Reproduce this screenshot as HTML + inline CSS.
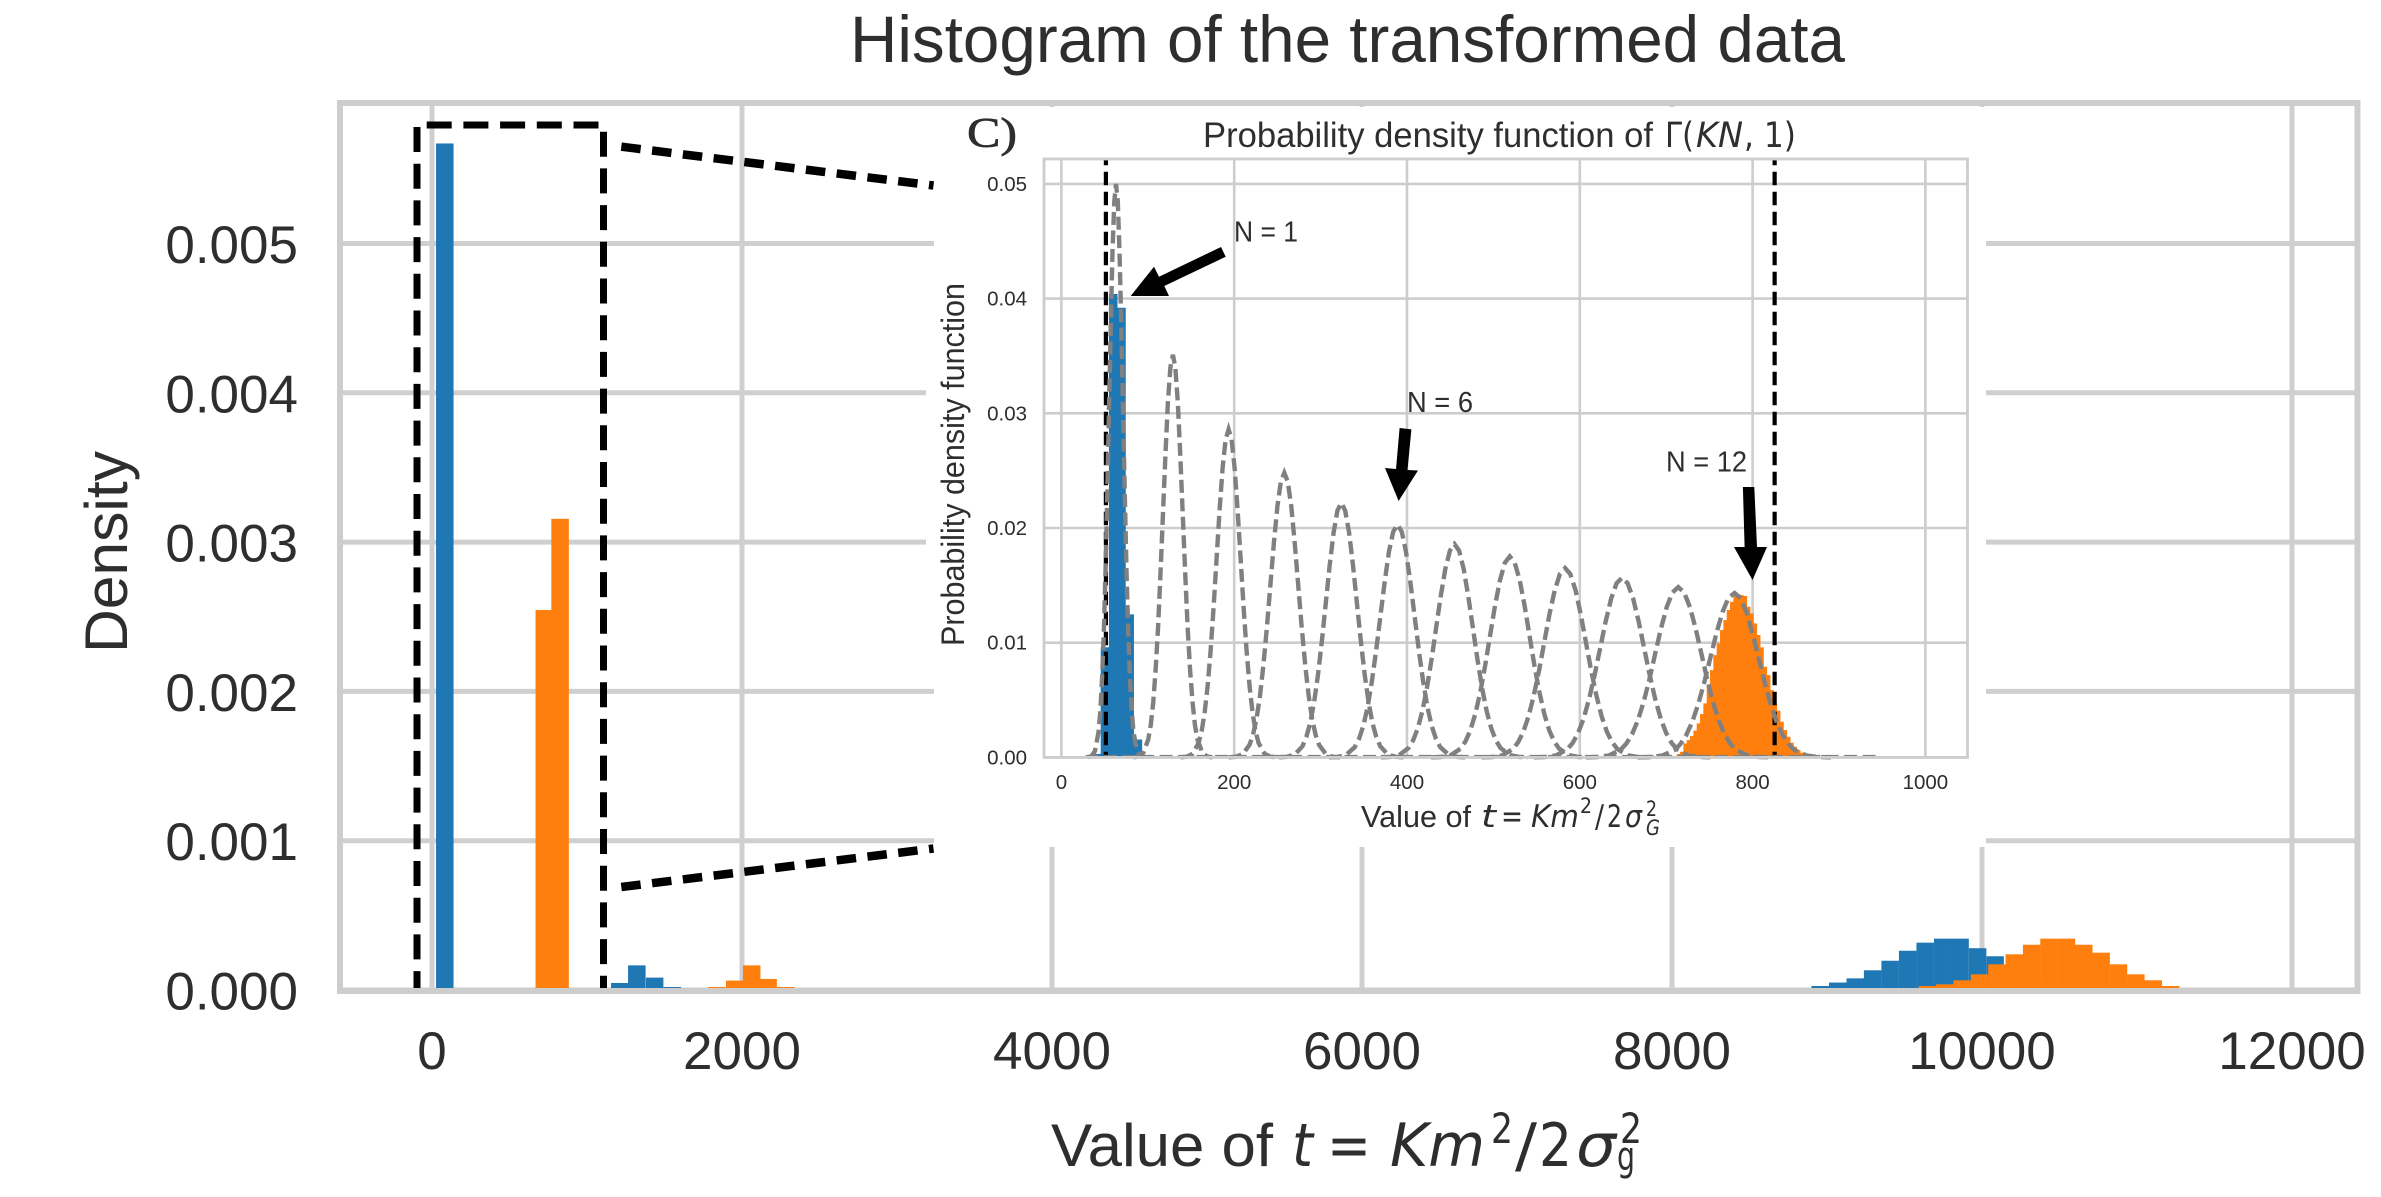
<!DOCTYPE html>
<html lang="en">
<head>
<meta charset="utf-8">
<title>Histogram of the transformed data</title>
<style>
html,body{margin:0;padding:0;background:#fff;}
svg{display:block;}
text{font-family:"Liberation Sans",sans-serif;fill:#2e2e2e;}
.math{font-family:"DejaVu Sans",sans-serif;}
.it{font-style:italic;}
</style>
</head>
<body>
<svg id="figure" xmlns="http://www.w3.org/2000/svg" width="2381" height="1197" viewBox="0 0 2381 1197">
  <rect x="0" y="0" width="2381" height="1197" fill="#fff"/>

  <text x="850" y="62" font-size="66" textLength="995" lengthAdjust="spacingAndGlyphs">Histogram of the transformed data</text>

  <g id="main-grid"></g>
  <g id="main-bars"></g>
  <g id="main-spines"></g>
  <g id="main-ticks"></g>

  <text transform="translate(127,653) rotate(-90)" font-size="60.5" textLength="202" lengthAdjust="spacingAndGlyphs">Density</text>

  <g>
    <text x="1051" y="1166" font-size="60" textLength="222" lengthAdjust="spacingAndGlyphs">Value of</text>
    <text class="math it" x="1292" y="1166" font-size="60" textLength="21" lengthAdjust="spacingAndGlyphs">t</text>
    <text class="math" x="1327" y="1166" font-size="60" textLength="44" lengthAdjust="spacingAndGlyphs">=</text>
    <text class="math it" x="1390" y="1166" font-size="60" textLength="95" lengthAdjust="spacingAndGlyphs">Km</text>
    <text class="math" x="1491" y="1143" font-size="42" textLength="22" lengthAdjust="spacingAndGlyphs">2</text>
    <text class="math" x="1515" y="1166" font-size="60" textLength="22" lengthAdjust="spacingAndGlyphs">/</text>
    <text class="math" x="1539" y="1166" font-size="60" textLength="33" lengthAdjust="spacingAndGlyphs">2</text>
    <text class="math it" x="1576" y="1166" font-size="60" textLength="40" lengthAdjust="spacingAndGlyphs">σ</text>
    <text class="math" x="1620" y="1143" font-size="42" textLength="22" lengthAdjust="spacingAndGlyphs">2</text>
    <text class="math" x="1617" y="1170" font-size="40" textLength="18" lengthAdjust="spacingAndGlyphs">g</text>
  </g>

  <g fill="none" stroke="#000" stroke-width="7">
    <path d="M417 988 L417 125 L603.5 125 L603.5 988" stroke-dasharray="25 11.7" stroke-dashoffset="8.1"/>
  </g>

  <rect x="934" y="107" width="1052" height="740" fill="#fff"/>
  <rect x="926" y="380" width="8" height="180" fill="#fff"/>

  <g fill="none" stroke="#000" stroke-width="8.5" stroke-dasharray="19.5 11.5">
    <line x1="621.3" y1="146.7" x2="933.5" y2="185.5"/>
    <line x1="621.3" y1="887" x2="933.5" y2="848.5"/>
  </g>

  <text x="967" y="147" font-size="42" stroke="#2e2e2e" stroke-width="0.7" textLength="50" lengthAdjust="spacingAndGlyphs" style="font-family:'Liberation Serif',serif">C)</text>

  <g>
    <text x="1203" y="147" font-size="35" textLength="450" lengthAdjust="spacingAndGlyphs">Probability density function of</text>
    <text class="math" x="1665" y="147" font-size="35" textLength="29" lengthAdjust="spacingAndGlyphs">Γ(</text>
    <text class="math it" x="1696" y="147" font-size="35" textLength="47" lengthAdjust="spacingAndGlyphs">KN</text>
    <text class="math" x="1744" y="147" font-size="35" textLength="52" lengthAdjust="spacingAndGlyphs">, 1)</text>
  </g>

  <g id="inset-grid"></g>
  <g id="inset-bars"></g>
  <g id="inset-bounds"></g>
  <g id="inset-curves"></g>
  <g id="inset-spines"></g>
  <g id="inset-ticks"></g>

  <text transform="translate(964,646) rotate(-90)" font-size="32" textLength="363" lengthAdjust="spacingAndGlyphs">Probability density function</text>

  <g>
    <text x="1361" y="827" font-size="31" textLength="110" lengthAdjust="spacingAndGlyphs">Value of</text>
    <text class="math it" x="1481" y="827" font-size="31" textLength="15" lengthAdjust="spacingAndGlyphs">t</text>
    <text class="math" x="1501" y="827" font-size="31" textLength="22" lengthAdjust="spacingAndGlyphs">=</text>
    <text class="math it" x="1531" y="827" font-size="31" textLength="48" lengthAdjust="spacingAndGlyphs">Km</text>
    <text class="math" x="1580" y="813" font-size="21" textLength="12" lengthAdjust="spacingAndGlyphs">2</text>
    <text class="math" x="1595" y="827" font-size="31" textLength="9" lengthAdjust="spacingAndGlyphs">/</text>
    <text class="math" x="1607" y="827" font-size="31" textLength="15" lengthAdjust="spacingAndGlyphs">2</text>
    <text class="math it" x="1625" y="827" font-size="31" textLength="17" lengthAdjust="spacingAndGlyphs">σ</text>
    <text class="math" x="1646" y="816" font-size="21" textLength="11" lengthAdjust="spacingAndGlyphs">2</text>
    <text class="math it" x="1646" y="835" font-size="21" textLength="14" lengthAdjust="spacingAndGlyphs">G</text>
  </g>

  <g>
    <polygon fill="#000" points="1221,247 1225.7,256.7 1164.3,286 1169,296 1130.7,296 1154,266.7 1159,276.7"/>
    <text x="1234" y="241.5" font-size="29" textLength="64" lengthAdjust="spacingAndGlyphs">N = 1</text>
    <polygon fill="#000" points="1399.6,428 1411.4,429.4 1407.5,470 1418,470.5 1398.6,501 1385,468 1396,469"/>
    <text x="1407" y="412" font-size="29" textLength="66" lengthAdjust="spacingAndGlyphs">N = 6</text>
    <polygon fill="#000" points="1742.9,487 1754.3,487 1757,547 1767,547 1752.5,580 1734,547 1744.6,547"/>
    <text x="1666" y="471.4" font-size="29" textLength="81" lengthAdjust="spacingAndGlyphs">N = 12</text>
  </g>
</svg>

<script>
// ---- main chart data ----
const mainXTicks = [0, 2000, 4000, 6000, 8000, 10000, 12000];
const mainXTickLabels = ['0', '2000', '4000', '6000', '8000', '10000', '12000'];
const mainYTicks = [0, 0.001, 0.002, 0.003, 0.004, 0.005];
const mainYTickLabels = ['0.000', '0.001', '0.002', '0.003', '0.004', '0.005'];
const mainBinWidth = 113;
const blueBinLefts = [26, 1052, 1155, 1265, 1380, 1494, 8900, 9013, 9126, 9238, 9351, 9464, 9577, 9690, 9802, 9915, 10028, 10141, 10254, 10367, 10480];
const blueDensity = [0.00567, 0.000013, 0.000047, 0.000165, 0.000083, 0.00002, 0.000027, 0.00005, 0.000078, 0.000132, 0.000196, 0.000263, 0.000317, 0.000344, 0.000344, 0.00028, 0.000226, 0.00016, 0.0001, 0.00005, 0.00002];
const orangeBinLefts = [668, 770, 1781, 1897, 2006, 2112, 2225, 9592, 9704, 9816, 9928, 10040, 10152, 10264, 10376, 10488, 10600, 10712, 10824, 10936, 11048, 11160];
const orangeDensity = [0.002545, 0.003156, 0.00002, 0.000063, 0.000165, 0.000074, 0.00002, 0.000027, 0.000038, 0.000065, 0.000105, 0.000172, 0.000239, 0.000303, 0.000344, 0.000344, 0.000303, 0.00025, 0.000172, 0.000105, 0.000065, 0.000027];

// ---- inset chart data ----
const insetXTicks = [0, 200, 400, 600, 800, 1000];
const insetXTickLabels = ['0', '200', '400', '600', '800', '1000'];
const insetYTicks = [0, 0.01, 0.02, 0.03, 0.04, 0.05];
const insetYTickLabels = ['0.00', '0.01', '0.02', '0.03', '0.04', '0.05'];
const insetBlueFirstEdge = 36;
const insetBlueBinWidth = 9.5;
const insetBlueDensity = [0.0003, 0.0096, 0.0404, 0.0392, 0.01247, 0.00156];
const insetOrangeFirstEdge = 708.3;
const insetOrangeBinWidth = 3.858;
const insetOrangeDensity = [0.00012, 0.00029, 0.00049, 0.00122, 0.00151, 0.00186, 0.00233, 0.00296, 0.00378, 0.00471, 0.00631, 0.00761, 0.00892, 0.00994, 0.0111, 0.01197, 0.01285, 0.01357, 0.01407, 0.01421, 0.01415, 0.01407, 0.01314, 0.01255, 0.01168, 0.01067, 0.00959, 0.0079, 0.00718, 0.00587, 0.00471, 0.00407, 0.00311, 0.00238, 0.0018, 0.00128, 0.00093, 0.00064, 0.00041, 0.00023, 0.00012];
const boundValues = [51.5, 825.5];
const curvePeakValue = [63.2, 129, 193.5, 258, 324, 389, 455, 519, 583, 649, 714, 779];
const curvePeakDensity = [0.05, 0.0351, 0.0286, 0.0248, 0.0222, 0.0203, 0.0186, 0.01752, 0.0165, 0.01567, 0.01485, 0.01433];
const curveSpread = [8.1, 11.4, 13.9, 16.1, 18, 19.8, 21.3, 22.8, 24.2, 25.5, 26.8, 27.9];
const curveShapeOffset = [-4, -3.5, -3, -2.5, -2.25, -2, -1.75, -1.5, -1.25, -1, -0.75, -0.5, -0.25, 0, 0.25, 0.5, 0.75, 1, 1.25, 1.5, 1.75, 2, 2.25, 2.5, 3, 3.5, 4];
const curveShapeRatio = [0.0003, 0.0022, 0.0111, 0.0439, 0.0796, 0.1353, 0.2163, 0.3247, 0.4578, 0.6065, 0.7548, 0.8825, 0.969, 1, 0.969, 0.8825, 0.7548, 0.6065, 0.4578, 0.3247, 0.2163, 0.1353, 0.0796, 0.0439, 0.0111, 0.0022, 0.0003];
const baselineRange = [28, 947];

// ---- axis functions ----
function mainX(v) { return 432 + 0.155 * v; }
function mainY(v) { return 990 - 149300 * v; }
function insetX(v) { return 1061.4 + 0.864 * v; }
function insetY(v) { return 757.4 - 11470 * v; }

const NS = 'http://www.w3.org/2000/svg';
function make(tag, parentId, attrs) {
  const el = document.createElementNS(NS, tag);
  for (const k in attrs) el.setAttribute(k, attrs[k]);
  document.getElementById(parentId).appendChild(el);
  return el;
}
const GRID = '#cfcfcf';
const INSET_GRID = '#cdcdcd';
const BLUE = '#1f77b4';
const ORANGE = '#ff7f0e';

// main grid
mainXTicks.forEach(function (t) {
  const el = make('line', 'main-grid', { x1: mainX(t), x2: mainX(t), y1: 103, y2: 990, stroke: GRID, 'stroke-width': 5 });
  
  
});
mainYTicks.forEach(function (v) {
  const el = make('line', 'main-grid', { x1: 340, x2: 2358, y1: mainY(v), y2: mainY(v), stroke: GRID, 'stroke-width': 5 });
  
  
});

// main bars
blueBinLefts.forEach(function (left, i) {
  const el = make('rect', 'main-bars', { x: mainX(left), y: mainY(blueDensity[i]), width: mainX(left + mainBinWidth) - mainX(left), height: mainY(0) - mainY(blueDensity[i]), fill: BLUE });
  
  
});
orangeBinLefts.forEach(function (left, i) {
  const el = make('rect', 'main-bars', { x: mainX(left), y: mainY(orangeDensity[i]), width: mainX(left + mainBinWidth) - mainX(left), height: mainY(0) - mainY(orangeDensity[i]), fill: ORANGE });
  
  
});

// main spines
const mainFrame = make('rect', 'main-spines', { x: 340, y: 103, width: 2017.5, height: 888, fill: 'none', stroke: '#cdcdcd', 'stroke-width': 6 });



// main tick labels
mainXTicks.forEach(function (t, i) {
  const el = make('text', 'main-ticks', { x: mainX(t), y: 1069, 'font-size': 53, 'text-anchor': 'middle' });
  el.textContent = mainXTickLabels[i];
  
  
});
mainYTicks.forEach(function (v, i) {
  const el = make('text', 'main-ticks', { x: 298, y: mainY(v) + 19.5, 'font-size': 53, 'text-anchor': 'end' });
  el.textContent = mainYTickLabels[i];
  
  
});

// inset grid
insetXTicks.forEach(function (t) {
  const el = make('line', 'inset-grid', { x1: insetX(t), x2: insetX(t), y1: 159, y2: 757.4, stroke: INSET_GRID, 'stroke-width': 2.6 });
  
  
});
insetYTicks.forEach(function (v) {
  const el = make('line', 'inset-grid', { x1: 1044, x2: 1967.5, y1: insetY(v), y2: insetY(v), stroke: INSET_GRID, 'stroke-width': 2.6 });
  
  
});

// inset bars
insetBlueDensity.forEach(function (d, i) {
  const left = insetBlueFirstEdge + i * insetBlueBinWidth;
  const el = make('rect', 'inset-bars', { x: insetX(left), y: insetY(d), width: insetX(left + insetBlueBinWidth) - insetX(left) + 0.4, height: insetY(0) - insetY(d), fill: BLUE });
  
  
});
insetOrangeDensity.forEach(function (d, i) {
  const left = insetOrangeFirstEdge + i * insetOrangeBinWidth;
  const el = make('rect', 'inset-bars', { x: insetX(left), y: insetY(d), width: insetX(left + insetOrangeBinWidth) - insetX(left) + 0.4, height: insetY(0) - insetY(d), fill: ORANGE });
  
  
});

// inset bound lines
boundValues.forEach(function (t) {
  const el = make('line', 'inset-bounds', { x1: insetX(t), x2: insetX(t), y1: 160, y2: 757.4, stroke: '#000', 'stroke-width': 4.2, 'stroke-dasharray': '13.5 6.5', 'stroke-dashoffset': 8.3 });
  
  
});

// inset pdf curves
const baseline = make('line', 'inset-curves', { x1: insetX(baselineRange[0]), x2: insetX(baselineRange[1]), y1: insetY(0) - 1, y2: insetY(0) - 1, stroke: '#808080', 'stroke-width': 3, 'stroke-dasharray': '13 5.5' });


curvePeakValue.forEach(function (peak, n) {
  const d = curveShapeOffset.map(function (off, j) {
    const px = insetX(peak + off * curveSpread[n]);
    const py = insetY(curvePeakDensity[n] * curveShapeRatio[j]);
    return (j ? 'L' : 'M') + px.toFixed(1) + ' ' + py.toFixed(1);
  }).join(' ');
  const el = make('path', 'inset-curves', { d: d, fill: 'none', stroke: '#808080', 'stroke-width': 4.4, 'stroke-dasharray': '13 5.5' });
  
  
});

// inset spines
const insetFrame = make('rect', 'inset-spines', { x: 1044, y: 159, width: 923.5, height: 598.4, fill: 'none', stroke: '#cdcdcd', 'stroke-width': 2.8 });



// inset tick labels
insetXTicks.forEach(function (t, i) {
  const el = make('text', 'inset-ticks', { x: insetX(t), y: 789, 'font-size': 20.5, 'text-anchor': 'middle' });
  el.textContent = insetXTickLabels[i];
  
  
});
insetYTicks.forEach(function (v, i) {
  const el = make('text', 'inset-ticks', { x: 1027, y: insetY(v) + 7, 'font-size': 20.5, 'text-anchor': 'end' });
  el.textContent = insetYTickLabels[i];
  
  
});
</script>
</body>
</html>
